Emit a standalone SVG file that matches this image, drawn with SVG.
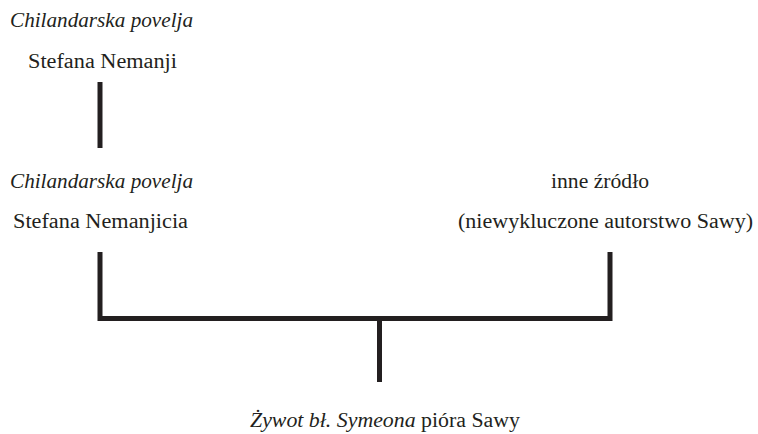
<svg xmlns="http://www.w3.org/2000/svg" width="758" height="434" viewBox="0 0 758 434">
<style>
text{font-size:20px;fill:#231f20}
.i{font-style:italic}
.c{stroke:#231f20;stroke-width:5;fill:none;stroke-linecap:butt}
</style>
<rect width="758" height="434" fill="#fff"/>
<g font-family="'Liberation Serif', 'Times New Roman', Tinos, 'DejaVu Serif', serif">
<g id="node-povelja-nemanji">
<text class="i" x="10" y="27" textLength="183" lengthAdjust="spacingAndGlyphs">Chilandarska povelja</text>
<text x="28" y="68" textLength="149" lengthAdjust="spacingAndGlyphs">Stefana Nemanji</text>
</g>
<g id="node-povelja-nemanjicia">
<text class="i" x="10" y="188" textLength="183" lengthAdjust="spacingAndGlyphs">Chilandarska povelja</text>
<text x="13" y="228" textLength="175" lengthAdjust="spacingAndGlyphs">Stefana Nemanjicia</text>
</g>
<g id="node-inne-zrodlo">
<text x="551" y="188" textLength="98" lengthAdjust="spacingAndGlyphs">inne źródło</text>
<text x="458" y="228" textLength="295" lengthAdjust="spacingAndGlyphs">(niewykluczone autorstwo Sawy)</text>
</g>
<g id="node-zywot">
<text x="250" y="427" textLength="270" lengthAdjust="spacingAndGlyphs"><tspan class="i">Żywot bł. Symeona</tspan> pióra Sawy</text>
</g>
</g>
<g id="connectors">
<line class="c" x1="100" y1="82" x2="100" y2="148"/>
<path class="c" d="M100 252 V318.5 H610 V252"/>
<line class="c" x1="379.5" y1="318.5" x2="379.5" y2="382"/>
</g>
</svg>
